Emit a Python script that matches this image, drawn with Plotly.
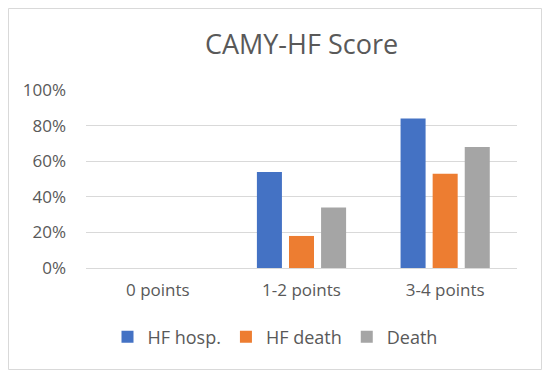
import plotly.graph_objects as go

categories = ["0 points", "1-2 points", "3-4 points"]
hf_hosp = [0.0, 0.54, 0.84]
hf_death = [0.0, 0.18, 0.53]
death = [0.0, 0.34, 0.68]
series_names = ["HF hosp.", "HF death", "Death"]
colors = ["#4472C4", "#ED7D31", "#A5A5A5"]
tick_vals = [0, 0.2, 0.4, 0.6, 0.8, 1.0]
tick_text = ["0%", "20%", "40%", "60%", "80%", "100%"]

FONT = "Open Sans"
fig = go.Figure()
for name, vals, c in zip(series_names, [hf_hosp, hf_death, death], colors):
    fig.add_trace(go.Bar(x=categories, y=vals, name=name, marker=dict(color=c, line=dict(width=0))))

L, R, T, B = 86, 33, 90, 111
W, H = 550, 379
pw, ph = W - L - R, H - T - B
def px(x): return (x - L) / pw
def py(y): return (H - B - y) / ph

fig.update_layout(
    width=W, height=H,
    margin=dict(l=L, r=R, t=T, b=B),
    paper_bgcolor="white", plot_bgcolor="white",
    barmode="group", bargap=0.33, bargroupgap=0.22,
    title=dict(text="CAMY-HF Score", x=0.5, xref="paper", xanchor="center",
               y=1 - 45 / H, yanchor="middle",
               font=dict(family=FONT, size=27, color="#595959")),
    font=dict(family=FONT, color="#595959"),
    xaxis=dict(showgrid=False, showline=False, ticks="", tickfont=dict(size=17, color="#595959"),
               ticklabelstandoff=10),
    yaxis=dict(range=[0, 1.0], tickvals=tick_vals, ticktext=tick_text,
               showgrid=True, gridcolor="#D9D9D9", gridwidth=1,
               zeroline=True, zerolinecolor="#D9D9D9", zerolinewidth=1,
               showline=False, ticks="", tickfont=dict(size=17, color="#595959"),
               ticklabelstandoff=19),
    legend=dict(orientation="h", x=0.5, xanchor="center", xref="container",
                y=1 - 337 / H, yref="container", yanchor="middle",
                font=dict(size=18, color="#595959"), itemwidth=30,
                traceorder="normal"),
    showlegend=True,
)
fig.add_shape(type="rect", xref="paper", yref="paper",
              x0=px(8.5), x1=px(541.5), y0=py(369.5), y1=py(8.5),
              line=dict(color="#D9D9D9", width=1), fillcolor="rgba(0,0,0,0)", layer="below")
fig.write_html("out.html", config={"displayModeBar": False},
               post_script="document.body.style.margin='0';document.body.style.padding='0';")
